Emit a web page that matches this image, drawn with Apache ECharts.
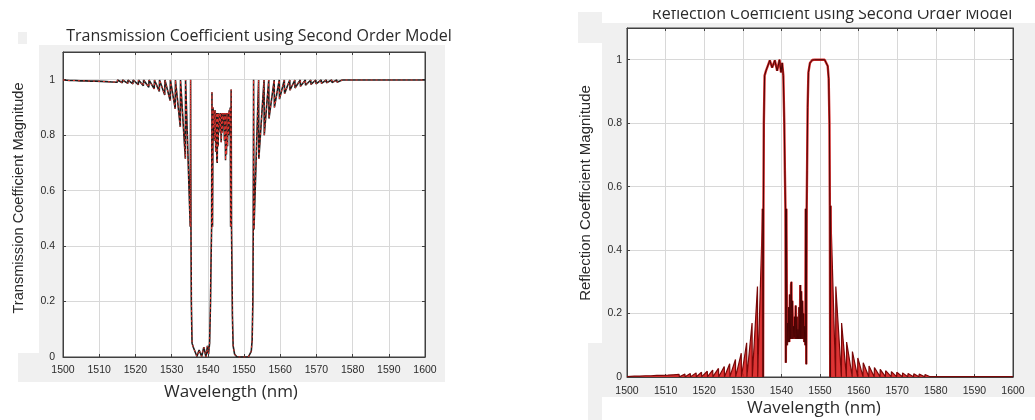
<!DOCTYPE html>
<html><head><meta charset="utf-8">
<script src="https://cdn.jsdelivr.net/npm/echarts@6/dist/echarts.min.js"></script>
<style>html,body{margin:0;padding:0;background:#fff}#c{width:1035px;height:420px}</style>
</head><body><div id="c"></div><script>
// ---------- Transmission (left chart) ----------
const transWl = [1500,
1501.9,1501.96,1503.3,1503.36,1504.8,1504.86,1506.2,1506.26,1507.7,1507.76,1509.1,1509.16,1510.6,1510.66,1512.0,1512.06,1513.5,1513.56,1515.0,1515.06,1516.4,1516.46,1517.9,1517.96,1519.3,1519.36,1520.8,1520.86,1522.2,1522.26,1523.7,1523.76,1525.2,1525.26,1526.6,1526.66,1528.1,1528.16,1529.6,1529.66,1531.0,1531.06,1532.4,1532.46,1533.8,1533.86,
1535.15,1535.25,1535.35,1535.45,1535.65,1536.0,1536.4,1537.0,1537.6,1538.3,1538.9,1539.5,1539.9,1540.2,1540.5,1540.75,1540.9,1541.05,1541.15,1541.3,1541.45,1541.6,1541.75,1541.9,1542.05,1542.2,1542.35,1542.5,1542.6,1542.7,1542.85,1543.0,1543.15,1543.3,1543.45,1543.55,1543.7,1543.85,1544.0,1544.15,1544.3,1544.45,1544.6,1544.75,1544.9,1545.0,1545.15,1545.3,1545.45,1545.6,1545.75,1545.9,1546.05,1546.2,1546.3,1546.45,1546.55,1546.65,1546.8,1547.0,1547.4,1548.0,1548.6,1551.2,1551.7,1552.0,1552.25,1552.45,1552.55,1552.65,1552.75,
1554.04,1554.1,1555.54,1555.6,1556.84,1556.9,1558.34,1558.4,1559.74,1559.8,1561.14,1561.2,1562.64,1562.7,1564.04,1564.1,1565.54,1565.6,1566.94,1567.0,1568.44,1568.5,1569.84,1569.9,1571.34,1571.4,1572.74,1572.8,1574.24,1574.3,1575.64,1575.7,1577.14,1577.2,1578.54,1578.6,1580.04,1580.1,1581.44,1581.5,1582.94,1583.0,1584.34,1584.4,1585.84,1585.9,1587.24,1587.3,1588.74,1588.8,1590.14,1590.2,1591.64,1591.7,1593.04,1593.1,1594.54,1594.6,1595.94,1596.0,1597.44,1597.5,1598.84,1598.9,1600];
const transVal = [0.999,
0.997,0.999,0.997,0.999,0.996,0.999,0.996,0.999,0.995,0.999,0.995,0.999,0.994,0.999,0.993,0.999,0.992,0.999,0.991,0.999,0.989,0.999,0.987,0.999,0.985,0.999,0.982,0.999,0.978,0.999,0.973,0.999,0.967,0.999,0.958,0.999,0.945,0.999,0.925,0.999,0.895,0.999,0.83,0.999,0.715,0.999,
0.47,1.0,0.47,0.2,0.05,0.035,0.03,0.002,0.025,0.002,0.035,0.0,0.04,0.01,0.05,0.2,0.35,0.47,0.955,0.47,0.90,0.83,0.89,0.78,0.89,0.74,0.88,0.71,0.70,0.88,0.76,0.88,0.84,0.875,0.81,0.88,0.775,0.88,0.81,0.88,0.85,0.88,0.78,0.88,0.71,0.88,0.73,0.88,0.76,0.88,0.80,0.89,0.84,0.90,0.47,0.965,0.47,0.35,0.15,0.04,0.01,0.001,0.0,0.0,0.005,0.02,0.06,0.2,0.46,1.0,0.46,
0.999,0.715,0.999,0.8,0.999,0.86,0.999,0.9,0.999,0.93,0.999,0.95,0.999,0.962,0.999,0.97,0.999,0.976,0.999,0.98,0.999,0.983,0.999,0.985,0.999,0.987,0.999,0.989,0.999,0.99,0.999,0.991,0.999,0.992,0.999,0.993,0.999,0.994,0.999,0.994,0.999,0.995,0.999,0.995,0.999,0.996,0.999,0.996,0.999,0.996,0.999,0.997,0.999,0.997,0.999,0.997,0.999,0.997,0.999,0.997,0.999,0.998,0.999,0.998,0.999];

// ---------- Reflection (right chart) ----------
const reflLeftWl = [1500,1501.9,1501.96,1503.3,1503.36,1504.8,1504.86,1506.2,1506.26,1507.7,1507.76,1509.1,1509.16,1510.6,1510.66,1512.0,1512.06,1513.5,1513.56,1515.0,1515.06,1516.4,1516.46,1517.9,1517.96,1519.3,1519.36,1520.8,1520.86,1522.2,1522.26,1523.7,1523.76,1525.2,1525.26,1526.6,1526.66,1528.1,1528.16,1529.6,1529.66,1531.0,1531.06,1532.4,1532.46,1533.8,1533.86,1535.15];
const reflLeftVal = [0.001,0.003,0.001,0.003,0.001,0.004,0.001,0.004,0.001,0.005,0.001,0.005,0.001,0.006,0.001,0.007,0.001,0.008,0.001,0.009,0.001,0.011,0.001,0.013,0.001,0.015,0.001,0.018,0.001,0.022,0.001,0.027,0.001,0.033,0.001,0.042,0.001,0.055,0.001,0.075,0.001,0.108,0.001,0.17,0.001,0.285,0.001,0.53];
const reflCoreWl = [1535.15,1535.25,1535.35,1535.45,1535.65,1536.0,1536.4,1537.0,1537.6,1538.3,1538.9,1539.5,1539.9,1540.2,1540.5,1540.75,1540.9,1541.05,1541.15,1541.3,1541.45,1541.6,1541.75,1541.9,1542.05,1542.2,1542.35,1542.5,1542.6,1542.7,1542.85,1543.0,1543.15,1543.3,1543.45,1543.55,1543.7,1543.85,1544.0,1544.15,1544.3,1544.45,1544.6,1544.75,1544.9,1545.0,1545.15,1545.3,1545.45,1545.6,1545.75,1545.9,1546.05,1546.2,1546.3,1546.45,1546.55,1546.65,1546.8,1547.0,1547.4,1548.0,1548.6,1551.2,1551.7,1552.0,1552.25,1552.45,1552.55,1552.65,1552.75];
const reflCoreVal = [0.53,0.0,0.53,0.8,0.95,0.965,0.97,0.998,0.975,0.998,0.965,1.0,0.96,0.99,0.95,0.8,0.65,0.53,0.045,0.53,0.10,0.17,0.11,0.22,0.11,0.26,0.12,0.29,0.30,0.12,0.24,0.12,0.16,0.125,0.19,0.12,0.225,0.12,0.19,0.12,0.15,0.12,0.22,0.12,0.29,0.12,0.27,0.12,0.24,0.12,0.20,0.11,0.16,0.10,0.53,0.04,0.53,0.65,0.85,0.96,0.99,0.999,1.0,1.0,0.995,0.98,0.94,0.8,0.54,0.0,0.54];
const reflRightWl = [1552.75,1554.04,1554.1,1555.54,1555.6,1556.84,1556.9,1558.34,1558.4,1559.74,1559.8,1561.14,1561.2,1562.64,1562.7,1564.04,1564.1,1565.54,1565.6,1566.94,1567.0,1568.44,1568.5,1569.84,1569.9,1571.34,1571.4,1572.74,1572.8,1574.24,1574.3,1575.64,1575.7,1577.14,1577.2,1578.54,1578.6,1580.04,1580.1,1581.44,1581.5,1582.94,1583.0,1584.34,1584.4,1585.84,1585.9,1587.24,1587.3,1588.74,1588.8,1590.14,1590.2,1591.64,1591.7,1593.04,1593.1,1594.54,1594.6,1595.94,1596.0,1597.44,1597.5,1598.84,1598.9,1600];
const reflRightVal = [0.54,0.001,0.285,0.001,0.17,0.001,0.11,0.001,0.08,0.001,0.06,0.001,0.045,0.001,0.035,0.001,0.03,0.001,0.024,0.001,0.02,0.001,0.017,0.001,0.015,0.001,0.013,0.001,0.011,0.001,0.01,0.001,0.009,0.001,0.008,0.001,0.007,0.001,0.006,0.001,0.006,0.001,0.005,0.001,0.005,0.001,0.004,0.001,0.004,0.001,0.004,0.001,0.003,0.001,0.003,0.001,0.003,0.001,0.003,0.001,0.003,0.001,0.002,0.001,0.002,0.001];

// ---------- Texts / ticks ----------
const titleLeft = 'Transmission Coefficient using Second Order Model';
const titleRight = 'Reflection Coefficient using Second Order Model';
const yNameLeft = 'Transmission Coefficient Magnitude';
const yNameRight = 'Reflection Coefficient Magnitude';
const xName = 'Wavelength (nm)';
const xMin = 1500, xMax = 1600, xStep = 10;
const yMin = 0, yMax = 1.1, yStep = 0.2;

function pairs(a, b) { const n = Math.min(a.length, b.length), r = []; for (let i = 0; i < n; i++) r.push([a[i], b[i]]); return r; }

const chart = echarts.init(document.getElementById('c'), null, { renderer: 'canvas' });
const AX = '#404040';
const tickFont = { fontFamily: 'Liberation Sans', fontSize: 10.5, color: '#2b2b2b' };

function xAx(gi, pos, main, margin) {
  return { type: 'value', gridIndex: gi, position: pos, min: xMin, max: xMax, interval: xStep,
    axisLine: { show: true, onZero: false, lineStyle: { color: AX, width: 1 } },
    axisTick: { show: true, inside: true, length: 3, lineStyle: { color: AX } },
    axisLabel: Object.assign({ show: main, margin: margin, formatter: v => String(Math.round(v)) }, tickFont),
    splitLine: { show: main, lineStyle: { color: '#d8d8d8', width: 1 } } };
}
function yAx(gi, pos, main, margin) {
  return { type: 'value', gridIndex: gi, position: pos, min: yMin, max: yMax, interval: yStep,
    axisLine: { show: true, onZero: false, lineStyle: { color: AX, width: 1 } },
    axisTick: { show: true, inside: true, length: 3, lineStyle: { color: AX } },
    axisLabel: Object.assign({ show: main, margin: margin, showMaxLabel: false,
      formatter: v => (v > 1.05 ? '' : String(+v.toFixed(1))) }, tickFont),
    splitLine: { show: main, lineStyle: { color: '#d8d8d8', width: 1 } } };
}

const transData = pairs(transWl, transVal);
const GRAY = '#f0f0f0';
function rect(x, y, w, h, fill, z) { return { type: 'rect', shape: { x: x, y: y, width: w, height: h }, style: { fill: fill }, z: z, silent: true }; }
function txt(s, x, y, font, rot, z) { return { type: 'text', x: x, y: y, rotation: rot || 0, z: z || 10, style: { text: s, font: font, fill: '#2a2a2a', align: 'center', verticalAlign: 'middle' } }; }

chart.setOption({
  animation: false,
  backgroundColor: '#ffffff',
  grid: [
    { left: 63, top: 52, width: 362, height: 305, show: true, backgroundColor: '#fff', borderColor: AX, borderWidth: 1 },
    { left: 627, top: 28, width: 386, height: 349, show: true, backgroundColor: '#fff', borderColor: AX, borderWidth: 1 }
  ],
  xAxis: [ xAx(0, 'bottom', true, 8), xAx(1, 'bottom', true, 9), xAx(0, 'top', false, 0), xAx(1, 'top', false, 0) ],
  yAxis: [ yAx(0, 'left', true, 8), yAx(1, 'left', true, 5), yAx(0, 'right', false, 0), yAx(1, 'right', false, 0) ],
  graphic: [
    rect(39, 45, 406, 337, GRAY, -10), rect(18, 353, 21, 29, GRAY, -10), rect(18, 32, 9, 12, GRAY, -10),
    rect(602, 23, 433, 374, GRAY, -10), rect(578, 12, 24, 31, GRAY, -10), rect(588, 343, 14, 77, GRAY, -10),
    txt(titleLeft, 259, 36.5, '16px "Open Sans"'),
    txt(titleRight, 832, 14.5, '16px "Open Sans"'),
    rect(600, 0, 435, 10, '#ffffff', 50),
    txt(yNameLeft, 18.5, 198, '14.6px "Liberation Sans"', Math.PI / 2),
    txt(yNameRight, 586, 193, '15px "Liberation Sans"', Math.PI / 2),
    txt(xName, 231, 392, '17px "Open Sans"'),
    txt(xName, 814, 408, '17px "Open Sans"')
  ],
  series: [
    { type: 'line', xAxisIndex: 0, yAxisIndex: 0, data: transData, showSymbol: false, symbol: 'none',
      lineStyle: { color: '#1e1e1e', width: 1.6 }, z: 3 },
    { type: 'line', xAxisIndex: 0, yAxisIndex: 0, data: transData, showSymbol: false, symbol: 'none',
      lineStyle: { color: '#e8352e', width: 1, type: [2, 3] }, z: 4 },
    { type: 'line', xAxisIndex: 1, yAxisIndex: 1, data: pairs(reflLeftWl, reflLeftVal), showSymbol: false, symbol: 'none',
      lineStyle: { color: '#7a0808', width: 1.2 }, areaStyle: { color: '#d91e1e', opacity: 0.9, origin: 'start' }, z: 3 },
    { type: 'line', xAxisIndex: 1, yAxisIndex: 1, data: pairs(reflRightWl, reflRightVal), showSymbol: false, symbol: 'none',
      lineStyle: { color: '#7a0808', width: 1.2 }, areaStyle: { color: '#d91e1e', opacity: 0.9, origin: 'start' }, z: 3 },
    { type: 'line', xAxisIndex: 1, yAxisIndex: 1, data: pairs(reflCoreWl, reflCoreVal), showSymbol: false, symbol: 'none',
      lineStyle: { color: '#d42a2a', width: 2.4 }, z: 3 },
    { type: 'line', xAxisIndex: 1, yAxisIndex: 1, data: pairs(reflCoreWl, reflCoreVal), showSymbol: false, symbol: 'none',
      lineStyle: { color: '#4a0505', width: 1 }, z: 4 }
  ]
});
</script></body></html>
